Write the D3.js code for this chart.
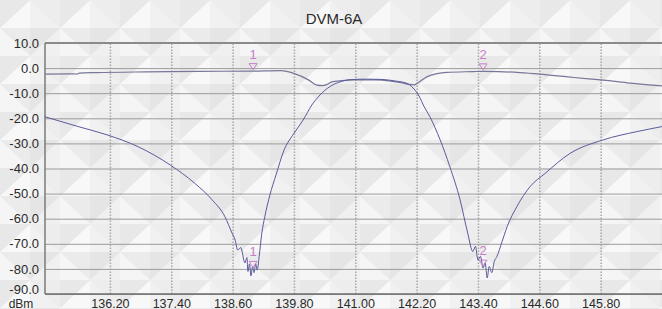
<!DOCTYPE html>
<html>
<head>
<meta charset="utf-8">
<script src="https://cdn.jsdelivr.net/npm/d3@7"></script>
<style>
  body { margin: 0; background: #efefef; }
  svg text { font-family: "Liberation Sans", Arial, sans-serif; fill: #2a2a2a; }
</style>
</head>
<body>
<div id="chart"></div>
<script>
// frequency (MHz) / level (dBm)
var passFreq = [134.93, 135.5, 135.56, 135.6, 135.93, 136.92, 137.94, 138.98, 139.55, 139.80,
  140.09, 140.25, 140.35, 140.45, 140.54, 140.74, 140.99, 141.40, 141.70, 141.89,
  142.05, 142.15, 142.25, 142.40, 142.60, 142.79, 143.30, 143.51, 143.80, 144.22,
  144.61, 145.16, 145.57, 145.85, 146.37, 147.0];
var passLevel = [-2.4, -2.3, -2.4, -2.0, -1.8, -1.5, -1.3, -1.2, -1.0, -2.1,
  -4.8, -6.8, -7.0, -6.5, -5.5, -5.0, -4.7, -4.7, -5.2, -5.8,
  -6.5, -6.7, -5.5, -3.5, -2.2, -1.7, -1.4, -1.3, -1.4, -1.8,
  -2.4, -3.5, -4.3, -4.8, -6.0, -7.1];

var notchFreq = [134.93, 135.58, 136.16, 136.75, 137.38, 137.86, 138.20, 138.45, 138.59, 138.65,
  138.70, 138.76, 138.84, 138.88, 138.90, 138.93, 138.96, 138.99, 139.02, 139.05,
  139.08, 139.12, 139.17, 139.23, 139.33, 139.45, 139.60, 139.80, 139.98, 140.15,
  140.31, 140.50, 140.70, 140.90, 141.20, 141.50, 141.80, 142.00, 142.13, 142.27,
  142.33, 142.46, 142.66, 142.85, 143.05, 143.20, 143.30, 143.35, 143.40, 143.45,
  143.50, 143.54, 143.58, 143.62, 143.67, 143.72, 143.77, 143.87, 143.97, 144.16,
  144.42, 144.71, 145.20, 145.85, 146.51, 147.0];
var notchLevel = [-19.4, -23.3, -26.7, -31.3, -38.6, -45.9, -52.5, -59.2, -65.8, -68.5,
  -72.5, -71.5, -77.6, -75.5, -81.0, -78.0, -82.8, -79.0, -81.5, -78.0,
  -80.5, -75.0, -66.0, -59.2, -50.5, -42.5, -33.0, -26.0, -20.7, -14.7,
  -10.7, -7.4, -5.5, -4.6, -4.4, -4.5, -5.2, -6.0, -7.9, -12.0,
  -14.7, -19.4, -28.6, -39.3, -52.5, -65.8, -73.1, -71.0, -76.5, -75.0,
  -79.7, -77.5, -83.6, -79.0, -81.5, -77.0, -75.1, -69.2, -63.2, -55.2,
  -47.2, -42.0, -34.0, -28.6, -25.3, -23.3];

var markerNames = ["1", "2"];
var markerFreq = [139.0, 143.5];
var markerTopLevel = [-1.2, -1.3];
var markerBottomLevel = [-80.0, -79.5];

var xTicks = [136.2, 137.4, 138.6, 139.8, 141.0, 142.2, 143.4, 144.6, 145.8];
var yTicks = [10, 0, -10, -20, -30, -40, -50, -60, -70, -80, -90];

var svgWidth = 662;
var svgHeight = 309;
var margin = { top: 43, right: 0, bottom: 15, left: 45 };
var width = svgWidth - margin.left - margin.right;
var height = 294 - margin.top;

var svg = d3.select("#chart")
  .append("svg")
  .attr("width", svgWidth)
  .attr("height", svgHeight);

// quilted diamond background
var defs = svg.append("defs");
var pat = defs.append("pattern")
  .attr("id", "quilt")
  .attr("patternUnits", "userSpaceOnUse")
  .attr("width", 60)
  .attr("height", 56);
pat.append("rect").attr("width", 60).attr("height", 56).attr("fill", "#ececec");
var s = [
  { p: "30,0 30,28 0,28", c: "#f8f8f8" },
  { p: "30,0 60,28 30,28", c: "#f1f1f1" },
  { p: "0,28 30,28 30,56", c: "#ebebeb" },
  { p: "30,28 60,28 30,56", c: "#e5e5e5" },
  { p: "0,0 30,0 0,28", c: "#e8e8e8" },
  { p: "30,0 60,0 60,28", c: "#ededed" },
  { p: "0,28 0,56 30,56", c: "#f5f5f5" },
  { p: "60,28 60,56 30,56", c: "#f0f0f0" }
];
pat.selectAll("polygon").data(s).enter().append("polygon")
  .attr("points", d => d.p)
  .attr("fill", d => d.c);

svg.append("rect")
  .attr("width", svgWidth)
  .attr("height", svgHeight)
  .attr("fill", "url(#quilt)");

var chartGroup = svg.append("g")
  .attr("transform", `translate(${margin.left}, ${margin.top})`);

var xScale = d3.scaleLinear()
  .domain([134.93, 147.0])
  .range([0, 617]);

var yScale = d3.scaleLinear()
  .domain([10, -90])
  .range([0, height]);

// vertical dotted grid
chartGroup.append("g")
  .attr("class", "xgrid")
  .attr("transform", `translate(0, ${height})`)
  .call(d3.axisBottom(xScale).tickValues(xTicks).tickSize(-height).tickFormat(""))
  .call(g => g.select(".domain").remove())
  .selectAll("line")
  .attr("stroke", "#a6a6a6")
  .attr("stroke-width", 1.5)
  .attr("stroke-dasharray", "1.5,1.5");

// horizontal grid + y labels
var leftAxis = d3.axisLeft(yScale)
  .tickValues(yTicks)
  .tickSize(-width)
  .tickPadding(6)
  .tickFormat(d => d.toFixed(1));

chartGroup.append("g")
  .attr("class", "yaxis")
  .call(leftAxis)
  .call(g => g.select(".domain").remove())
  .call(g => g.selectAll("line").attr("stroke", "#9c9c9c").attr("stroke-width", 1))
  .call(g => g.selectAll("text").attr("font-size", 13).attr("x", -6))
  // lowest label sits a little higher, clear of the unit text
  .call(g => g.selectAll("text").filter(d => d === -90).attr("dy", "-0.02em"));

// x labels
chartGroup.append("g")
  .attr("class", "xaxis")
  .attr("transform", `translate(0, ${height})`)
  .call(d3.axisBottom(xScale).tickValues(xTicks).tickSize(0).tickFormat(d => d.toFixed(2)))
  .call(g => g.select(".domain").remove())
  .call(g => g.selectAll("text").attr("font-size", 12.5).attr("y", 13.5).attr("dy", 0));

// frame
chartGroup.append("line")
  .attr("x1", 0).attr("x2", width).attr("y1", 0).attr("y2", 0)
  .attr("stroke", "#8a8a8a").attr("stroke-width", 2);
chartGroup.append("line")
  .attr("x1", 0).attr("x2", width).attr("y1", height).attr("y2", height)
  .attr("stroke", "#6e6e6e").attr("stroke-width", 1.5);
chartGroup.append("line")
  .attr("x1", 0).attr("x2", 0).attr("y1", 0).attr("y2", height)
  .attr("stroke", "#7a7a7a").attr("stroke-width", 1.5);

svg.append("text")
  .attr("x", 21)
  .attr("y", 307.5)
  .attr("text-anchor", "middle")
  .attr("font-size", 12)
  .text("dBm");

svg.append("text")
  .attr("x", 334)
  .attr("y", 24)
  .attr("text-anchor", "middle")
  .attr("font-size", 15)
  .text("DVM-6A");

// traces
var line = d3.line()
  .curve(d3.curveMonotoneX)
  .x(d => xScale(d[0]))
  .y(d => yScale(d[1]));

chartGroup.append("path")
  .datum(passFreq.map((f, i) => [f, passLevel[i]]))
  .attr("d", line)
  .attr("fill", "none")
  .attr("stroke", "#777799")
  .attr("stroke-width", 1.2);

chartGroup.append("path")
  .datum(notchFreq.map((f, i) => [f, notchLevel[i]]))
  .attr("d", line)
  .attr("fill", "none")
  .attr("stroke", "#5a5a9c")
  .attr("stroke-width", 1);

// markers
var markerColor = "#c77dc7";
function drawMarker(name, f, v) {
  var mx = xScale(f);
  var my = yScale(v) - 1.5;
  chartGroup.append("path")
    .attr("d", `M${mx - 4},${my - 6}L${mx + 4},${my - 6}L${mx},${my}Z`)
    .attr("fill", "none")
    .attr("stroke", markerColor)
    .attr("stroke-width", 1);
  chartGroup.append("text")
    .attr("x", mx)
    .attr("y", my - 11)
    .attr("text-anchor", "middle")
    .attr("font-size", 13)
    .style("fill", markerColor)
    .text(name);
}

markerNames.forEach(function(n, i) {
  drawMarker(n, markerFreq[i], markerTopLevel[i]);
  drawMarker(n, markerFreq[i], markerBottomLevel[i]);
});
</script>
</body>
</html>
